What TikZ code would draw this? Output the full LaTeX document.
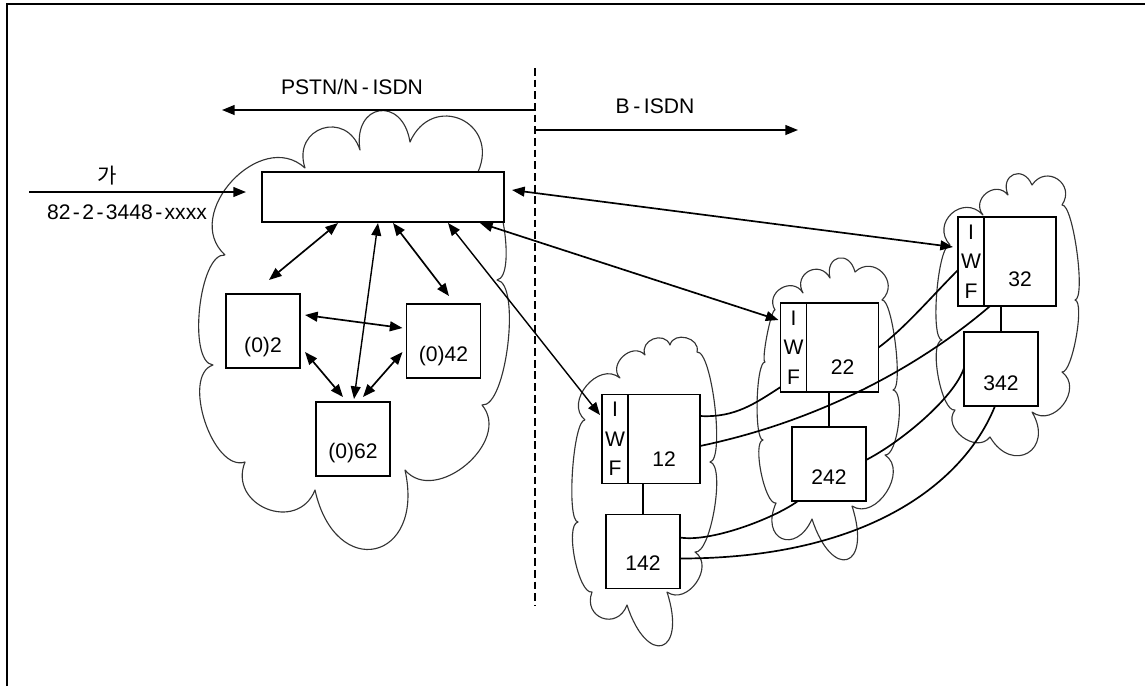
\documentclass[tikz,border=0pt]{standalone}
\usepackage{fontspec}
\setmainfont{Liberation Sans}
\newfontfamily\korfont{Noto Sans CJK KR}
\usetikzlibrary{arrows.meta,positioning,calc}
\newcommand\trat{\hspace{0.09cm}-\hspace{0.09cm}}
\newcommand\tratn{\hspace{0.06cm}-\hspace{0.06cm}}
\begin{document}
\begin{tikzpicture}[x=0.025cm, y=-0.025cm,
		>={Triangle[length=9pt,width=7pt]}, line width=1.2pt,
		every node/.style={font=\fontsize{15}{18}\selectfont},
		box/.style={draw, fill=white, outer sep=0pt, inner sep=0pt, minimum width=1.85cm, minimum height=1.85cm},
		iwf/.style={draw, fill=white, outer sep=0pt, inner sep=0pt, minimum width=0.65cm, minimum height=2.23cm, align=center, font=\fontsize{15}{21}\selectfont},
		sw/.style={draw, fill=white, outer sep=0pt, inner sep=0pt, minimum width=1.8cm, minimum height=2.23cm},
		nuvola/.style={line width=0.8pt, black!80, line join=round},
		bump/.style={bend left=90, looseness=#1}, bump/.default=1.5]
	\useasboundingbox (0,0) rectangle (1145,686);
	\draw[line width=1.3pt] (7,686) -- (7,4) -- (1145,4);
	
	%% nuvole
	\draw[nuvola] (225,255) to[bump=1.3] (305,168) to[bump=1.9] (360,150) to[bump=2.4] (410,142)
		to[bump=1.9] (478,172) to[bump=0.5] (497,280) to[bump=0.5] (482,405) to[bump=1.2] (405,470)
		to[bump=2.6] (315,490) to[bump=1.6] (245,462) to[bump=0.85] (213,365) to[bump=0.6] (225,255);
	\draw[nuvola] (585,420) to[bump=1.3] (620,378) to[bump=1.4] (645,355) to[bump=1.5] (670,345)
		to[bump=1.35] (697,352) to[bump=0.35] (710,462) to[bump=0.45] (695,552) to[bump=1.3] (667,592)
		to[bump=4] (627,605) to[bump=1.9] (592,592) to[bump=0.5] (578,522) to[bump=0.3] (585,420);
	\draw[nuvola] (775,310) to[bump=1.6] (803,293) to[bump=1.8] (830,278) to[bump=2.3] (855,272)
		to[bump=1.7] (882,300) to[bump=0.3] (893,390) to[bump=0.5] (885,455) to[bump=1.2] (852,506)
		to[bump=4] (812,519) to[bump=2.6] (776,503) to[bump=0.45] (763,440) to[bump=0.3] (765,362)
		to[bump=0.2] (775,310);
	\draw[nuvola] (950,245) to[bump=1.7] (983,215) to[bump=1.6] (1008,195) to[bump=2.2] (1032,185)
		to[bump=1.8] (1062,205) to[bump=0.3] (1075,300) to[bump=0.36] (1062,372) to[bump=1.4] (1032,412)
		to[bump=2.3] (990,437) to[bump=1.3] (955,410) to[bump=0.5] (942,340) to[bump=0.33] (950,245);
	
	%% confine PSTN / B-ISDN
	\coordinate (divA) at (535,68);
	\coordinate (divB) at (535,605);
	\draw[line width=0.8pt, dash pattern=on 5.5pt off 2.8pt] (divA) -- (divB);
	\coordinate (pstnA) at (535,110);
	\coordinate (pstnB) at (222,110);
	\coordinate (bisdnA) at (535,130);
	\coordinate (bisdnB) at (798,130);
	\draw[->] (pstnA) -- (pstnB);
	\draw[->] (bisdnA) -- (bisdnB);
	\node (tpstn) at (352,87) {PSTN/N\trat ISDN};
	\node (tbisdn) at (655,106) {B\trat ISDN};
	
	%% centrali
	\node[draw, fill=white, outer sep=0pt, minimum width=6.05cm, minimum height=1.25cm] (gw) at (383,197) {};
	\node[box, label={[yshift=-0.4cm]center:(0)2}] (ex2) at (263,331) {};
	\node[box, label={[yshift=-0.38cm]center:(0)42}] (ex42) at (443.5,341) {};
	\node[box, label={[yshift=-0.35cm]center:(0)62}] (ex62) at (353,439) {};
	
	\node[iwf] (iwf12) at (615,439) {I\\W\\F};
	\node[sw, right=0pt of iwf12, label={[yshift=-0.5cm]center:12}] (sw12) {};
	\node[box, label={[yshift=-0.3cm]center:142}] (sw142) at (643,551.5) {};
	\node[iwf] (iwf22) at (793.5,347.5) {I\\W\\F};
	\node[sw, right=0pt of iwf22, label={[yshift=-0.5cm]center:22}] (sw22) {};
	\node[box, label={[yshift=-0.33cm]center:242}] (sw242) at (829,464) {};
	\node[iwf] (iwf32) at (971,261.5) {I\\W\\F};
	\node[sw, right=0pt of iwf32, label={[yshift=-0.45cm]center:32}] (sw32) {};
	\node[box, label={[yshift=-0.35cm]center:342}] (sw342) at (1001,369) {};
	
	%% abbonato
	\coordinate (utente) at (29,192);
	\draw[->] (utente) -- ($(gw.west)+(-16,-5)$);
	\node (tga) at (107,176) {\korfont 가};
	\node (tnum) at (127,212) {82\tratn 2\tratn 3448\tratn xxxx};
	
	%% collegamenti
	\draw[<->] ($(gw.south)+(-45,1)$) -- ($(ex2.north)+(6,-14)$);
	\draw[<->, line width=1pt] ($(gw.south)+(-5,1)$) -- ($(ex62.north)+(1,-3)$);
	\draw[<->] ($(gw.south)+(10,1)$) -- ($(ex42.north)+(5.5,-8)$);
	\draw[<->, line width=1pt] ($(gw.south)+(65,1)$) -- ($(iwf12.west)+(-2,-24)$);
	\draw[<->] ($(gw.south)+(97,1)$) -- ($(iwf22.west)+(-2,-27.5)$);
	\draw[<->] ($(gw.east)+(8,-7)$) -- ($(iwf32.west)+(-5,-14.5)$);
	\draw[<->] ($(ex2.east)+(5,-16)$) -- ($(ex42.west)+(-4,-13)$);
	\draw[<->] ($(ex2.east)+(5,21)$) -- ($(ex62.north)+(-10,-5)$);
	\draw[<->] ($(ex42.west)+(-4,11)$) -- ($(ex62.north)+(10,-5)$);
	
	\draw (sw12.south -| sw142.north) -- (sw142.north);
	\draw (sw22.south -| sw242.north) -- (sw242.north);
	\draw (sw32.south -| sw342.north) -- (sw342.north);
	
	\draw ($(sw12.east)+(0,-23)$) .. controls +(35,2) and +(-25,16) .. ($(iwf22.south west)+(0,-5)$);
	\draw ($(sw12.east)+(0,7)$) .. controls +(120,-25) and +(-70,60) .. ($(sw32.south west)+(6,0)$);
	\draw (sw22.east) .. controls +(25,-18) and +(-25,25) .. ($(iwf32.west)+(0,8.5)$);
	\draw ($(sw142.east)+(0,-14)$) .. controls +(30,5) and +(-25,18) .. ($(sw242.south west)+(6,0)$);
	\draw ($(sw142.east)+(0,7)$) .. controls +(190,0) and +(-30,75) .. ($(sw342.south)+(-6,0)$);
	\draw ($(sw242.east)+(0,-4)$) .. controls +(35,-18) and +(-10,30) .. ($(sw342.west)+(0,-1)$);
\end{tikzpicture}
\end{document}
